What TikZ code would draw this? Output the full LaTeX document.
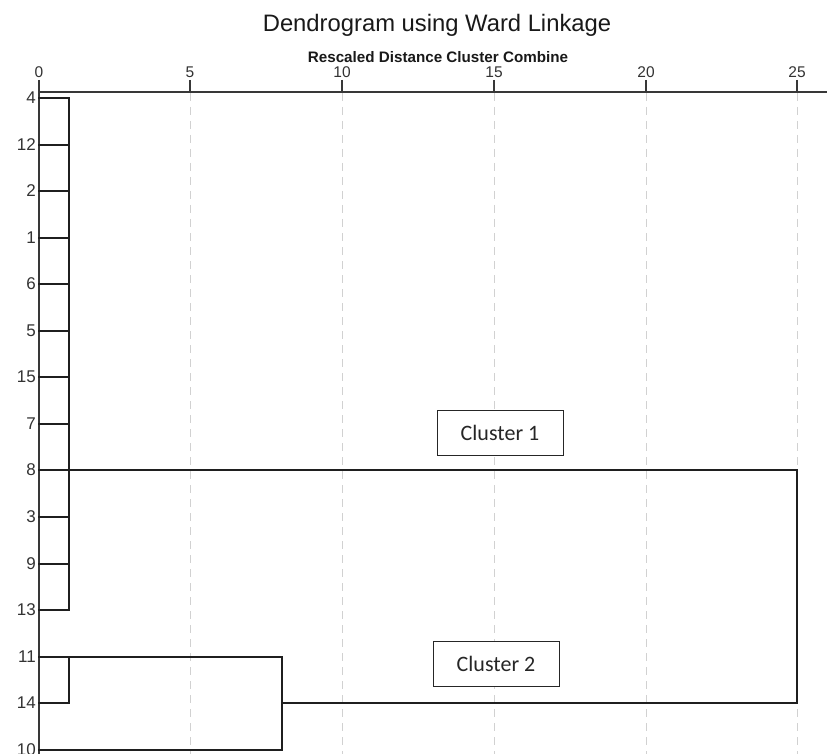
\documentclass[tikz,border=0pt]{standalone}
\usepackage{fontspec}
\setmainfont{Liberation Sans}
\newfontfamily\calib{Carlito}
\begin{document}
\begin{tikzpicture}[x=1pt,y=-1pt,
  axisline/.style={draw=black!78, line width=2pt},
  dend/.style={draw=black!88, line width=2pt, line cap=rect},
  gridline/.style={draw=black!18, line width=1pt, dash pattern=on 8pt off 6pt},
  ticklab/.style={font=\fontsize{15.5}{15.5}\selectfont, text=black!80, inner sep=0pt, anchor=base},
  rowlab/.style={font=\fontsize{17}{17}\selectfont, text=black!80, anchor=east, inner sep=0pt},
  clbox/.style={draw=black!85, line width=1pt, fill=white, font=\calib\fontsize{22}{22}\selectfont, text=black!85, minimum width=126pt, minimum height=45pt, inner sep=0pt}]
\useasboundingbox (0,0) rectangle (827,754);
\clip (0,0) rectangle (827,754);
\fill[white] (0,0) rectangle (827,754);
% grid
\foreach \gx in {190.5,342.5,494.5,646.5,797.5}{
  \draw[gridline] (\gx,93) -- (\gx,754);
}
% titles
\node[font=\fontsize{23.8}{23.8}\selectfont, text=black!90, anchor=base, inner sep=0pt] (title) at (437,32) {Dendrogram using Ward Linkage};
\node[font=\bfseries\fontsize{15.2}{15.2}\selectfont, text=black!90, anchor=base, inner sep=0pt] (subtitle) at (438,63) {Rescaled Distance Cluster Combine};
% axis
\coordinate (ax0) at (39,92);
\coordinate (axR) at (827,92);
\coordinate (axB) at (39,754);
\coordinate (axT) at (39,80);
\draw[axisline] (axR) -- (ax0);
\draw[axisline] (axT) -- (axB);
\foreach \v/\tx in {0/39,5/190,10/342,15/494,20/646,25/797}{
  \node[ticklab] (t\v) at (\tx,78) {\v};
}
\foreach \tx in {190,342,494,646,797}{
  \draw[axisline] (\tx,80) -- (\tx,92);
}
% leaves
\foreach \lab/\ry in {4/98,12/145,2/191,1/238,6/284,5/331,15/377,7/424,8/470,3/517,9/564,13/610,11/657,14/703,10/750}{
  \node[rowlab] (r\lab) at (36,\ry) {\lab};
  \coordinate (L\lab) at (39,\ry);
}
% merge x positions
\def\xa{69}
\def\xb{282}
\def\xc{797}
% cluster 1
\foreach \lab in {4,12,2,1,6,5,15,7,8,3,9,13}{
  \draw[dend] (L\lab) -- (L\lab -| {\xa,0});
}
\coordinate (c1top) at (\xa,98);
\coordinate (c1bot) at (\xa,610);
\draw[dend] (c1top) -- (c1bot);
\coordinate (c1join) at (\xc,470);
\draw[dend] (L8) -- (c1join);
% cluster 2
\coordinate (m11) at (\xb,657);
\coordinate (k11) at (\xa,657);
\coordinate (k14) at (\xa,703);
\coordinate (m10) at (\xb,750);
\coordinate (m14) at (\xb,703);
\coordinate (c2join) at (\xc,703);
\draw[dend] (L11) -- (m11);
\draw[dend] (L14) -- (k14) -- (k11);
\draw[dend] (L10) -- (m10) -- (m11);
\draw[dend] (m14) -- (c2join) -- (c1join);
% cluster labels
\node[clbox] (box1) at (500,432.5) {Cluster 1};
\node[clbox] (box2) at (496,663.5) {Cluster 2};
\end{tikzpicture}
\end{document}
